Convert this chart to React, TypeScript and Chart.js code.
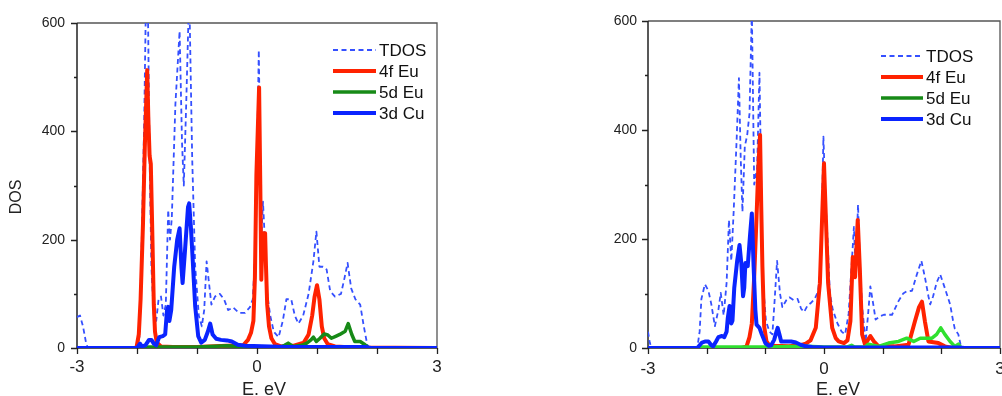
import React, { useEffect, useRef } from "react";
import { Chart, registerables } from "chart.js";

Chart.register(...registerables);

// ---------- axes / labels ----------
const xTickValues = [-3, -2, -1, 0, 1, 2, 3];
const xTickLabels = ["-3", "", "", "0", "", "", "3"];
const yTickValues = [0, 100, 200, 300, 400, 500, 600];
const yTickLabels = ["0", "", "200", "", "400", "", "600"];
const seriesNames = ["TDOS", "4f Eu", "5d Eu", "3d Cu"];
const xTitle = "E. eV";
const yTitle = "DOS";

// ---------- left panel ----------
const tdosLE = [-3.0, -2.95, -2.9, -2.85, -2.82, -2.0, -1.96, -1.92, -1.88, -1.85, -1.82, -1.79, -1.76, -1.72, -1.68, -1.64, -1.6, -1.56, -1.52, -1.48, -1.45, -1.42, -1.36, -1.29, -1.25, -1.22, -1.18, -1.13, -1.08, -1.03, -0.97, -0.92, -0.88, -0.84, -0.8, -0.76, -0.7, -0.62, -0.55, -0.48, -0.4, -0.3, -0.2, -0.12, -0.07, -0.02, 0.03, 0.07, 0.1, 0.13, 0.17, 0.22, 0.28, 0.36, 0.43, 0.49, 0.57, 0.63, 0.69, 0.77, 0.86, 0.94, 0.99, 1.04, 1.1, 1.16, 1.22, 1.3, 1.4, 1.46, 1.51, 1.57, 1.64, 1.72, 1.78, 1.84, 1.88, 3.0];
const tdosLV = [57, 60, 40, 10, 0, 0, 20, 200, 420, 650, 650, 350, 150, 60, 50, 90, 95, 60, 80, 255, 200, 240, 450, 585, 380, 300, 450, 660, 350, 150, 60, 40, 70, 160, 120, 80, 95, 100, 90, 70, 75, 65, 65, 75, 90, 200, 550, 200, 270, 200, 100, 60, 30, 20, 50, 90, 90, 60, 45, 60, 100, 160, 215, 150, 150, 145, 105, 95, 100, 130, 157, 110, 90, 80, 40, 5, 0, 0];

const f4LE = [-3.0, -2.01, -1.97, -1.94, -1.9, -1.87, -1.83, -1.81, -1.79, -1.77, -1.745, -1.72, -1.7, -1.67, -1.6, -1.4, -1.0, -0.5, -0.23, -0.15, -0.1, -0.06, -0.035, -0.01, 0.035, 0.055, 0.072, 0.09, 0.105, 0.135, 0.15, 0.17, 0.2, 0.24, 0.3, 0.4, 0.6, 0.78, 0.86, 0.92, 0.96, 1.0, 1.04, 1.08, 1.12, 1.18, 1.3, 1.6, 3.0];
const f4LV = [0, 0, 25, 90, 230, 370, 513, 420, 355, 340, 213, 80, 30, 10, 3, 2, 2, 4, 5, 15, 28, 50, 130, 320, 481, 300, 126, 200, 212, 212, 150, 80, 40, 18, 7, 3, 4, 10, 25, 60, 95, 116, 90, 40, 18, 7, 3, 1, 0];

const d5LE = [-3.0, -2.0, -1.8, -1.0, -0.5, -0.3, 0.0, 0.4, 0.46, 0.52, 0.6, 0.75, 0.83, 0.9, 0.94, 0.99, 1.05, 1.12, 1.18, 1.24, 1.32, 1.38, 1.47, 1.52, 1.58, 1.63, 1.72, 1.8, 1.86, 3.0];
const d5LV = [0, 0, 2, 2, 4, 3, 2, 2, 5, 9, 3, 5, 9, 15, 20, 12, 18, 26, 24, 18, 22, 25, 31, 45, 25, 12, 12, 6, 0, 0];

const d3LE = [-3.0, -2.0, -1.95, -1.92, -1.86, -1.8, -1.76, -1.72, -1.68, -1.63, -1.57, -1.53, -1.5, -1.48, -1.46, -1.43, -1.38, -1.33, -1.29, -1.26, -1.24, -1.2, -1.15, -1.13, -1.1, -1.07, -1.03, -0.98, -0.93, -0.87, -0.82, -0.78, -0.74, -0.68, -0.6, -0.5, -0.42, -0.32, -0.2, 0.5, 1.8, 1.9, 3.0];
const d3LV = [0, 0, 8, 3, 5, 15, 15, 8, 5, 20, 22, 25, 70, 76, 50, 70, 150, 200, 221, 150, 120, 180, 260, 267, 220, 160, 77, 22, 10, 15, 30, 45, 25, 17, 15, 14, 12, 6, 4, 2, 2, 0, 0];

// ---------- right panel ----------
const tdosRE = [-3.0, -2.97, -2.94, -2.16, -2.12, -2.09, -2.03, -1.97, -1.92, -1.86, -1.8, -1.76, -1.71, -1.66, -1.62, -1.58, -1.54, -1.49, -1.45, -1.42, -1.39, -1.35, -1.31, -1.27, -1.23, -1.19, -1.14, -1.1, -1.07, -1.04, -0.99, -0.93, -0.88, -0.84, -0.8, -0.75, -0.71, -0.64, -0.59, -0.52, -0.45, -0.39, -0.34, -0.28, -0.23, -0.16, -0.1, -0.05, -0.01, 0.03, 0.06, 0.1, 0.15, 0.23, 0.3, 0.36, 0.42, 0.47, 0.51, 0.54, 0.58, 0.61, 0.65, 0.71, 0.75, 0.79, 0.84, 0.88, 0.95, 1.02, 1.16, 1.27, 1.35, 1.41, 1.5, 1.58, 1.66, 1.72, 1.78, 1.81, 1.86, 1.92, 1.98, 2.06, 2.15, 2.2, 2.23, 2.29, 2.34, 3.0];
const tdosRV = [30, 10, 0, 0, 30, 90, 117, 105, 80, 40, 70, 101, 60, 120, 235, 160, 250, 380, 495, 350, 250, 370, 390, 430, 620, 300, 330, 505, 300, 120, 50, 30, 25, 90, 160, 100, 75, 88, 93, 88, 90, 72, 66, 78, 82, 90, 104, 160, 388, 260, 200, 100, 70, 45, 30, 25, 63, 150, 222, 140, 263, 160, 75, 12, 60, 113, 80, 52, 58, 61, 61, 86, 100, 104, 105, 134, 160, 130, 95, 80, 95, 120, 135, 110, 80, 50, 35, 25, 0, 0];

const f4RE = [-3.0, -1.4, -1.32, -1.27, -1.23, -1.19, -1.15, -1.12, -1.09, -1.07, -1.05, -1.02, -0.98, -0.94, -0.85, -0.6, -0.4, -0.31, -0.23, -0.14, -0.07, -0.03, 0.0, 0.03, 0.07, 0.14, 0.2, 0.25, 0.34, 0.4, 0.45, 0.49, 0.53, 0.575, 0.61, 0.65, 0.7, 0.75, 0.79, 0.85, 0.93, 1.2, 1.44, 1.55, 1.62, 1.67, 1.72, 1.78, 1.95, 2.06, 2.2, 3.0];
const f4RV = [0, 0, 3, 20, 45, 130, 240, 330, 391, 260, 150, 40, 12, 6, 4, 3, 5, 8, 14, 37, 119, 245, 339, 245, 119, 37, 18, 12, 9, 14, 49, 167, 130, 235, 147, 25, 6, 15, 22, 12, 3, 3, 6, 49, 75, 85, 49, 12, 9, 3, 0, 0];

const d5RE = [-3.0, -2.15, -2.1, -1.0, -0.3, 0.0, 0.4, 0.47, 0.52, 0.7, 0.76, 0.93, 1.1, 1.27, 1.41, 1.47, 1.53, 1.64, 1.75, 1.84, 1.92, 1.99, 2.06, 2.15, 2.23, 2.29, 2.34, 3.0];
const d5RV = [0, 0, 2, 2, 3, 2, 2, 5, 2, 2, 7, 3, 9, 12, 18, 15, 12, 18, 18, 18, 25, 37, 25, 12, 3, 7, 0, 0];

const d3RE = [-3.0, -2.16, -2.12, -2.08, -2.02, -1.97, -1.92, -1.89, -1.84, -1.8, -1.74, -1.7, -1.66, -1.64, -1.61, -1.58, -1.56, -1.53, -1.48, -1.44, -1.41, -1.38, -1.36, -1.34, -1.3, -1.26, -1.23, -1.2, -1.17, -1.15, -1.1, -1.06, -1.0, -0.94, -0.9, -0.85, -0.81, -0.79, -0.76, -0.73, -0.65, -0.56, -0.48, -0.4, -0.31, -0.2, 0.0, 2.3, 2.4, 3.0];
const d3RV = [0, 0, 5, 10, 12, 12, 5, 3, 12, 20, 22, 20, 30, 55, 77, 45, 50, 110, 160, 189, 156, 95, 110, 156, 150, 208, 247, 150, 70, 43, 37, 25, 9, 4, 5, 15, 30, 37, 25, 12, 12, 12, 10, 6, 3, 2, 1, 1, 0, 0];

// ---------- styles ----------
const FONT = "'Liberation Sans', Arial, Helvetica, sans-serif";
const TDOS_COLOR = "#3550ff";
const F4_COLOR = "#ff2200";
const D5_DARK = "#178a17";
const D5_LIME = "#2fe02f";
const D3_COLOR = "#0a24ff";

function zip(xs: number[], ys: number[]) {
  return xs.map((x, i) => ({ x, y: ys[i] }));
}

const framePlugin = {
  id: "frame",
  beforeDatasetsDraw(chart: any) {
    const { ctx, chartArea: a, scales } = chart;
    const x = scales.x;
    const y = scales.y;
    ctx.save();
    ctx.strokeStyle = "#555";
    ctx.lineWidth = 1.3;
    ctx.beginPath();
    ctx.moveTo(a.left, a.top);
    ctx.lineTo(a.right, a.top);
    ctx.lineTo(a.right, a.bottom);
    ctx.stroke();
    ctx.strokeStyle = "#222";
    ctx.lineWidth = 1.5;
    ctx.beginPath();
    ctx.moveTo(a.left, a.top);
    ctx.lineTo(a.left, a.bottom);
    ctx.lineTo(a.right, a.bottom);
    ctx.stroke();
    ctx.lineWidth = 1.3;
    ctx.beginPath();
    xTickValues.forEach((v) => {
      const px = Math.round(x.getPixelForValue(v)) + 0.5;
      ctx.moveTo(px, a.bottom);
      ctx.lineTo(px, a.bottom + 6);
    });
    yTickValues.forEach((v, i) => {
      const py = Math.round(y.getPixelForValue(v)) + 0.5;
      const len = yTickLabels[i] ? 6 : 3;
      ctx.moveTo(a.left, py);
      ctx.lineTo(a.left - len, py);
    });
    ctx.stroke();
    ctx.restore();
  },
};

const decorPlugin = {
  id: "decor",
  afterDraw(chart: any, _args: any, opts: any) {
    const { ctx } = chart;
    ctx.save();
    const L = opts.legend;
    chart.data.datasets.forEach((ds: any, i: number) => {
      const yy = L.y + i * L.dy;
      ctx.beginPath();
      ctx.strokeStyle = ds.legendColor || ds.borderColor;
      ctx.lineWidth = ds.borderWidth;
      ctx.setLineDash(ds.borderDash || []);
      ctx.moveTo(L.x0, yy);
      ctx.lineTo(L.x1, yy);
      ctx.stroke();
      ctx.setLineDash([]);
      ctx.fillStyle = "#111";
      ctx.font = `17px ${FONT}`;
      ctx.textAlign = "left";
      ctx.textBaseline = "middle";
      ctx.fillText(ds.label, L.x1 + 3, yy + 1);
    });
    ctx.fillStyle = "#222";
    ctx.font = `18px ${FONT}`;
    ctx.textAlign = "center";
    ctx.textBaseline = "alphabetic";
    ctx.fillText(opts.xTitle.text, opts.xTitle.x, opts.xTitle.y);
    if (opts.yTitle) {
      ctx.save();
      ctx.translate(opts.yTitle.x, opts.yTitle.y);
      ctx.rotate(-Math.PI / 2);
      ctx.font = `16px ${FONT}`;
      ctx.textBaseline = "middle";
      ctx.fillText(opts.yTitle.text, 0, 0);
      ctx.restore();
    }
    ctx.restore();
  },
};

type Panel = {
  tdos: { x: number; y: number }[];
  f4: { x: number; y: number }[];
  d5: { x: number; y: number }[];
  d3: { x: number; y: number }[];
  d5Color: string;
  top: number;
  axisW: number;
  padRight: number;
  yLabelPad: number;
  xLabelPad: number;
  legend: { x0: number; x1: number; y: number; dy: number };
  xTitle: { text: string; x: number; y: number };
  yTitle?: { text: string; x: number; y: number };
};

function makeConfig(p: Panel): any {
  return {
    type: "line",
    data: {
      datasets: [
        { label: seriesNames[0], data: p.tdos, borderColor: TDOS_COLOR, borderWidth: 1.8, borderDash: [5, 3.5], order: 4 },
        { label: seriesNames[1], data: p.f4, borderColor: F4_COLOR, borderWidth: 4, order: 3 },
        { label: seriesNames[2], data: p.d5, borderColor: p.d5Color, legendColor: D5_DARK, borderWidth: 3.5, order: 2 },
        { label: seriesNames[3], data: p.d3, borderColor: D3_COLOR, borderWidth: 4, order: 1 },
      ],
    },
    options: {
      responsive: false,
      animation: false,
      events: [],
      layout: { padding: { left: 0, right: p.padRight, top: p.top, bottom: 0 } },
      elements: {
        point: { radius: 0 },
        line: { tension: 0, fill: false, borderJoinStyle: "round", borderCapStyle: "butt" },
      },
      plugins: {
        legend: { display: false },
        tooltip: { enabled: false },
        decor: { legend: p.legend, xTitle: p.xTitle, yTitle: p.yTitle },
      },
      scales: {
        x: {
          type: "linear",
          min: -3,
          max: 3,
          afterBuildTicks: (s: any) => {
            s.ticks = xTickValues.map((v) => ({ value: v }));
          },
          afterFit: (s: any) => {
            s.height = 48;
          },
          grid: { display: false, drawTicks: false },
          border: { display: false },
          ticks: {
            autoSkip: false,
            maxRotation: 0,
            padding: p.xLabelPad,
            color: "#222",
            font: { family: FONT, size: 17 },
            callback: (v: any) => {
              const i = xTickValues.indexOf(Number(v));
              return i >= 0 ? xTickLabels[i] : "";
            },
          },
        },
        y: {
          type: "linear",
          min: 0,
          max: 600,
          afterBuildTicks: (s: any) => {
            s.ticks = yTickValues.map((v) => ({ value: v }));
          },
          afterFit: (s: any) => {
            s.width = p.axisW;
          },
          grid: { display: false, drawTicks: false },
          border: { display: false },
          ticks: {
            autoSkip: false,
            padding: p.yLabelPad,
            color: "#222",
            font: { family: FONT, size: 14 },
            callback: (v: any) => {
              const i = yTickValues.indexOf(Number(v));
              return i >= 0 ? yTickLabels[i] : "";
            },
          },
        },
      },
    },
    plugins: [framePlugin, decorPlugin],
  };
}

function PanelChart({ panel, left, width }: { panel: Panel; left: number; width: number }) {
  const ref = useRef<HTMLCanvasElement | null>(null);
  useEffect(() => {
    if (!ref.current) return;
    const chart = new Chart(ref.current, makeConfig(panel));
    return () => chart.destroy();
  }, [panel]);
  return (
    <canvas
      ref={ref}
      width={width}
      height={396}
      style={{ position: "absolute", left, top: 0, width, height: 396 }}
    />
  );
}

const leftPanel: Panel = {
  tdos: zip(tdosLE, tdosLV),
  f4: zip(f4LE, f4LV),
  d5: zip(d5LE, d5LV),
  d3: zip(d3LE, d3LV),
  d5Color: D5_DARK,
  top: 23,
  axisW: 77,
  padRight: 23,
  yLabelPad: 12,
  xLabelPad: 9,
  legend: { x0: 333, x1: 376, y: 50, dy: 21 },
  xTitle: { text: xTitle, x: 264, y: 395 },
  yTitle: { text: yTitle, x: 17, y: 197 },
};

const rightPanel: Panel = {
  tdos: zip(tdosRE, tdosRV),
  f4: zip(f4RE, f4RV),
  d5: zip(d5RE, d5RV),
  d3: zip(d3RE, d3RV),
  d5Color: D5_LIME,
  top: 21,
  axisW: 88,
  padRight: 20,
  yLabelPad: 11,
  xLabelPad: 11,
  legend: { x0: 321, x1: 363, y: 56, dy: 21 },
  xTitle: { text: xTitle, x: 278, y: 395 },
};

export default function App() {
  return (
    <div
      style={{
        position: "fixed",
        left: 0,
        top: 0,
        width: 1002,
        height: 396,
        overflow: "hidden",
        background: "#fff",
      }}
    >
      <PanelChart panel={leftPanel} left={0} width={460} />
      <PanelChart panel={rightPanel} left={560} width={460} />
    </div>
  );
}
